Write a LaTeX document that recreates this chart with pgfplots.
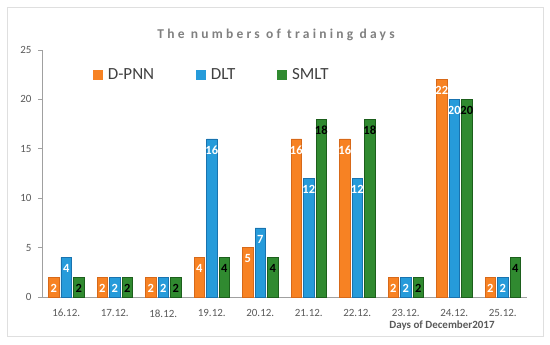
\documentclass[border=0pt]{standalone}
\usepackage{pgfplots}
\pgfplotsset{compat=1.18}
\usepackage{fontspec}
\setmainfont{Carlito}
\definecolor{orngM}{RGB}{247,130,35}
\definecolor{orngD}{RGB}{215,105,25}
\definecolor{bluM}{RGB}{38,155,218}
\definecolor{bluD}{RGB}{25,115,175}
\definecolor{grnM}{RGB}{48,138,48}
\definecolor{grnD}{RGB}{28,95,28}
\definecolor{axgray}{RGB}{160,160,160}
\definecolor{txtgray}{RGB}{89,89,89}
\definecolor{ttlgray}{RGB}{128,128,128}
\begin{document}
\begin{tikzpicture}
\begin{axis}[
  scale only axis, width=485pt, height=247pt,
  clip=false,
  ybar, bar width=10.5pt, ybar=2pt,
  xmin=-0.5, xmax=9.5, ymin=0, ymax=25,
  xtick={0,...,9},
  xticklabels={16.12.,17.12.,18.12.,19.12.,20.12.,21.12.,22.12.,23.12.,24.12.,25.12.},
  ytick={0,5,10,15,20,25},
  axis x line*=bottom, axis y line*=left,
  axis line style={-, draw=axgray, line width=0.8pt},
  x tick style={draw=none},
  y tick style={draw=axgray, line width=0.8pt},
  tick align=outside, major tick length=4pt,
  ticklabel style={font=\fontsize{11}{13}\selectfont, text=txtgray},
  xticklabel style={yshift=-5pt},
  yticklabel style={xshift=-3pt},
  /pgf/number format/assume math mode=true,
  nodes near coords,
  every node near coord/.append style={anchor=north, yshift=-3.5pt, font=\fontsize{12.5}{13}\selectfont\bfseries},
  legend style={at={(0.099,0.899)}, anchor=west, draw=none, fill=none,
    legend columns=3, font=\fontsize{17}{20}\selectfont, text=black!75,
    /tikz/every odd column/.append style={column sep=3pt},
    /tikz/every even column/.append style={column sep=40pt}},
  legend cell align=left,
]
\addplot[fill=orngM, draw=orngD, line width=0.6pt,
  every node near coord/.append style={text=white},
  legend image code/.code={\fill[orngM] (0pt,-4.5pt) rectangle (9pt,4.5pt);}]
  coordinates {(0,2) (1,2) (2,2) (3,4) (4,5) (5,16) (6,16) (7,2) (8,22) (9,2)};
\addplot[fill=bluM, draw=bluD, line width=0.6pt,
  every node near coord/.append style={text=white},
  legend image code/.code={\fill[bluM] (0pt,-4.5pt) rectangle (9pt,4.5pt);}]
  coordinates {(0,4) (1,2) (2,2) (3,16) (4,7) (5,12) (6,12) (7,2) (8,20) (9,2)};
\addplot[fill=grnM, draw=grnD, line width=0.6pt,
  every node near coord/.append style={text=black},
  legend image code/.code={\fill[grnM] (0pt,-4.5pt) rectangle (9pt,4.5pt);}]
  coordinates {(0,2) (1,2) (2,2) (3,4) (4,4) (5,18) (6,18) (7,2) (8,20) (9,4)};
\legend{D-PNN,DLT,SMLT}
\draw[gray!25, line width=0.8pt] (axis description cs:-0.0722,-0.1579) rectangle (axis description cs:1.0330,1.1741);
\node[font=\fontsize{13.5}{15}\selectfont\bfseries\addfontfeature{LetterSpace=24}, text=ttlgray] at (axis description cs:0.4825,1.0607) {The numbers of training days};
\node[font=\fontsize{11}{12}\selectfont\bfseries, text=txtgray] at (axis description cs:0.8247,-0.1174) {Days of December2017};
\coordinate (bbSW) at (axis description cs:-0.0866,-0.1903);
\coordinate (bbNE) at (axis description cs:1.0474,1.2024);
\end{axis}
\path (bbSW) rectangle (bbNE);
\end{tikzpicture}
\end{document}
